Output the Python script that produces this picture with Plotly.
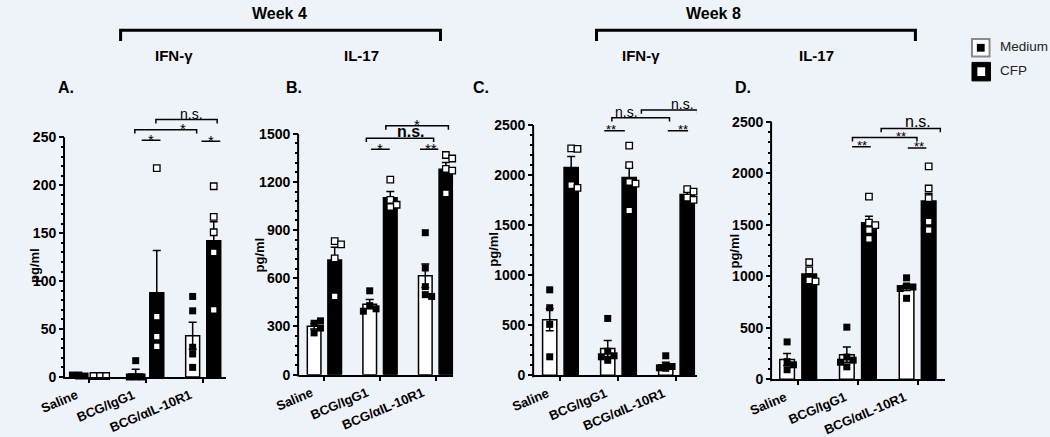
import plotly.graph_objects as go

FIG_W, FIG_H = 1050, 437
BG = "#EEF2F9"
FONT = "Liberation Sans, Arial, Helvetica, sans-serif"

CATEGORIES = ["Saline", "BCG/IgG1", "BCG/αIL-10R1"]

# ---- Panel A: Week 4, IFN-γ ----
A_MED_MEAN = [1.5, 3, 43]
A_MED_SEM = [0.5, 5, 14]
A_CFP_MEAN = [1.5, 88, 142]
A_CFP_SEM = [0.5, 44, 20]
A_MED_PTS = [[1, 1, 2, 2], [17, 0, 0, 0], [84, 69, 31, 24, 10]]
A_CFP_PTS = [[1, 1, 1], [218, 63, 42, 32], [199, 167, 151, 130, 70]]

# ---- Panel B: Week 4, IL-17 ----
B_MED_MEAN = [301, 439, 616]
B_MED_SEM = [17, 29, 73]
B_CFP_MEAN = [714, 1101, 1279]
B_CFP_SEM = [79, 39, 42]
B_MED_PTS = [[320, 335, 260, 290], [522, 430, 410, 395], [884, 664, 548, 498, 487]]
B_CFP_PTS = [[832, 811, 724, 488], [1214, 1089, 1058, 1044], [1368, 1346, 1281, 1271, 1129]]

# ---- Panel C: Week 8, IFN-γ ----
C_MED_MEAN = [556, 268, 105]
C_MED_SEM = [110, 80, 25]
C_CFP_MEAN = [2075, 1977, 1806]
C_CFP_SEM = [110, 100, 25]
C_MED_PTS = [[854, 675, 509, 185], [568, 240, 195, 185, 150], [195, 95, 88, 75, 70]]
C_CFP_PTS = [[2266, 2262, 1899, 1873], [2295, 2100, 1931, 1915, 1646], [1860, 1834, 1775, 1753]]

# ---- Panel D: Week 8, IL-17 ----
D_MED_MEAN = [191, 238, 890]
D_MED_SEM = [58, 74, 30]
D_CFP_MEAN = [1020, 1519, 1730]
D_CFP_SEM = [40, 63, 70]
D_MED_PTS = [[362, 170, 140, 92], [505, 215, 185, 165, 120], [984, 905, 895, 880, 785]]
D_CFP_PTS = [[1135, 1057, 960, 950], [1772, 1520, 1495, 1447, 1362], [2066, 1851, 1757, 1530, 1447]]

# significance marks: (x1, x2, y, bracket?, text, text_x, font size, bold)
A_SIG = [(0.92, 1.25, 247, False, "*", 1.085, 15, False),
         (1.97, 2.30, 246, False, "*", 2.135, 15, False),
         (0.80, 1.885, 258, True, "*", 1.65, 15, False),
         (1.17, 2.245, 268.6, True, "n.s.", 1.80, 14, False)]
B_SIG = [(0.84, 1.175, 1403, False, "*", 0.995, 15, False),
         (1.72, 2.05, 1403, False, "**", 1.91, 15, False),
         (0.754, 1.965, 1473, True, "n.s.", 1.55, 16, True),
         (1.105, 2.23, 1550, True, "*", 1.66, 15, False)]
C_SIG = [(0.756, 1.11, 2444, False, "**", 0.874, 13, False),
         (1.85, 2.20, 2444, False, "**", 2.106, 13, False),
         (0.886, 1.88, 2573, True, "n.s.", 1.143, 14, False),
         (1.395, 2.365, 2651, True, "n.s.", 2.10, 14, False)]
D_SIG = [(0.904, 1.215, 2255, False, "**", 1.063, 13, False),
         (1.836, 2.146, 2245, False, "**", 2.03, 13, False),
         (0.909, 1.989, 2346, True, "**", 1.717, 13, False),
         (1.39, 2.38, 2434, True, "n.s.", 2.01, 16, False)]

PANELS = [
    dict(med=A_MED_MEAN, meds=A_MED_SEM, cfp=A_CFP_MEAN, cfps=A_CFP_SEM, medp=A_MED_PTS, cfpp=A_CFP_PTS,
         sig=A_SIG, px_x=(40, 205), px_bottom=386.7, xr=(-0.426, 2.399), ytop=296.7,
         yticks=[0, 50, 100, 150, 200, 250], minor=10, letter="A.", letter_x=41, ylab_x=8, ylab_y=272),
    dict(med=B_MED_MEAN, meds=B_MED_SEM, cfp=B_CFP_MEAN, cfps=B_CFP_SEM, medp=B_MED_PTS, cfpp=B_CFP_PTS,
         sig=B_SIG, px_x=(280, 438), px_bottom=384.3, xr=(-0.456, 2.316), ytop=1756.5,
         yticks=[0, 300, 600, 900, 1200, 1500], minor=60, letter="B.", letter_x=275, ylab_x=239, ylab_y=262),
    dict(med=C_MED_MEAN, meds=C_MED_SEM, cfp=C_CFP_MEAN, cfps=C_CFP_SEM, medp=C_MED_PTS, cfpp=C_CFP_PTS,
         sig=C_SIG, px_x=(521, 688), px_bottom=385, xr=(-0.454, 2.353), ytop=2823.8,
         yticks=[0, 500, 1000, 1500, 2000, 2500], minor=100, letter="C.", letter_x=467, ylab_x=479, ylab_y=256),
    dict(med=D_MED_MEAN, meds=D_MED_SEM, cfp=D_CFP_MEAN, cfps=D_CFP_SEM, medp=D_MED_PTS, cfpp=D_CFP_PTS,
         sig=D_SIG, px_x=(765, 942), px_bottom=389, xr=(-0.437, 2.453), ytop=2781.5,
         yticks=[0, 500, 1000, 1500, 2000, 2500], minor=100, letter="D.", letter_x=735, ylab_x=726, ylab_y=258),
]

PX_TOP = 95
OFF = 0.185
BW = 0.245


def fx(px):
    return px / FIG_W


def fy(py):
    return 1 - py / FIG_H


def swarm(center, values, kx, ky, step_px=6.5, thr_px=6.5):
    placed, xs = [], []
    for v in values:
        chosen = 0.0
        for m in (0, 1, -1):
            dx = m * step_px
            if all(abs(dx - pdx) >= thr_px or abs((v - pv) * ky) >= thr_px for pdx, pv in placed):
                chosen = dx
                break
        placed.append((chosen, v))
        xs.append(center + chosen / kx)
    return xs


fig = go.Figure()
axes = {}
shapes = []
annotations = []

for i, p in enumerate(PANELS):
    n = i + 1
    xa = "x" if n == 1 else f"x{n}"
    ya = "y" if n == 1 else f"y{n}"
    x0px, x1px = p["px_x"]
    ky = (p["px_bottom"] - PX_TOP) / p["ytop"]
    kx = (x1px - x0px) / (p["xr"][1] - p["xr"][0])
    pos = list(range(len(CATEGORIES)))

    fig.add_trace(go.Bar(
        x=[c - OFF for c in pos], y=p["med"], width=BW, xaxis=xa, yaxis=ya, showlegend=False,
        marker=dict(color="white", line=dict(color="black", width=1.5)),
        error_y=dict(type="data", array=p["meds"], color="black", thickness=1.5, width=4)))
    fig.add_trace(go.Bar(
        x=[c + OFF for c in pos], y=p["cfp"], width=BW, xaxis=xa, yaxis=ya, showlegend=False,
        marker=dict(color="black", line=dict(color="black", width=1.5)),
        error_y=dict(type="data", array=p["cfps"], color="black", thickness=1.5, width=4)))

    mx, my, cx, cy = [], [], [], []
    for g, vals in enumerate(p["medp"]):
        mx += swarm(g - OFF, vals, kx, ky)
        my += vals
    for g, vals in enumerate(p["cfpp"]):
        cx += swarm(g + OFF, vals, kx, ky)
        cy += vals
    fig.add_trace(go.Scatter(x=mx, y=my, mode="markers", xaxis=xa, yaxis=ya, showlegend=False,
                             cliponaxis=False,
                             marker=dict(symbol="square", size=7, color="black", line=dict(width=0))))
    fig.add_trace(go.Scatter(x=cx, y=cy, mode="markers", xaxis=xa, yaxis=ya, showlegend=False,
                             cliponaxis=False,
                             marker=dict(symbol="square", size=6.5, color="white",
                                         line=dict(color="black", width=1.3))))

    ymax_tick = p["yticks"][-1]
    minor_vals = [v for v in range(0, ymax_tick + 1, p["minor"]) if v not in p["yticks"]]
    axes["xaxis" if n == 1 else f"xaxis{n}"] = dict(
        domain=[fx(x0px), fx(x1px)], range=list(p["xr"]), anchor=ya,
        showline=True, linecolor="black", linewidth=2, mirror=False,
        ticks="outside", ticklen=4, tickwidth=2, tickcolor="black",
        tickmode="array", tickvals=pos, ticktext=CATEGORIES, tickangle=-23,
        ticklabelshift=-13,
        tickfont=dict(family=FONT, size=13, color="black", weight="bold"),
        showgrid=False, zeroline=False, fixedrange=True)
    axes["yaxis" if n == 1 else f"yaxis{n}"] = dict(
        domain=[fy(p["px_bottom"]), fy(PX_TOP)], range=[0, p["ytop"]], anchor=xa,
        showline=False, ticks="outside", ticklen=5, tickwidth=2, tickcolor="black",
        tickmode="array", tickvals=p["yticks"], ticktext=[str(v) for v in p["yticks"]],
        tickfont=dict(family=FONT, size=14, color="black", weight="bold"),
        minor=dict(tickmode="array", tickvals=minor_vals, ticks="outside", ticklen=3,
                   tickwidth=1.5, tickcolor="black", showgrid=False),
        showgrid=False, zeroline=False, fixedrange=True)

    # y-axis line only up to the top tick
    ytop_paper = fy(p["px_bottom"]) + (ymax_tick / p["ytop"]) * (fy(PX_TOP) - fy(p["px_bottom"]))
    shapes.append(dict(type="line", xref="paper", yref="paper",
                       x0=fx(x0px - 1), x1=fx(x0px - 1), y0=fy(p["px_bottom"] + 2), y1=ytop_paper,
                       line=dict(color="black", width=2)))

    # significance lines and brackets
    drop = 4 / ky
    for (x1, x2, y, br, txt, tx, fs, bold) in p["sig"]:
        if br:
            path = f"M {x1},{y - drop} L {x1},{y} L {x2},{y} L {x2},{y - drop}"
            shapes.append(dict(type="path", xref=xa, yref=ya, path=path,
                               line=dict(color="black", width=1.5)))
        else:
            shapes.append(dict(type="line", xref=xa, yref=ya, x0=x1, x1=x2, y0=y, y1=y,
                               line=dict(color="black", width=1.5)))
        if "*" in txt:
            annotations.append(dict(xref=xa, yref=ya, x=tx, y=y, text=txt, showarrow=False,
                                    yanchor="middle", xanchor="center", yshift=1,
                                    font=dict(family=FONT, size=fs, color="black",
                                              weight="bold" if bold else "normal")))
        else:
            annotations.append(dict(xref=xa, yref=ya, x=tx, y=y, text=txt, showarrow=False,
                                    yanchor="bottom", xanchor="center", yshift=-4,
                                    font=dict(family=FONT, size=fs, color="black",
                                              weight="bold" if bold else "normal")))

    # panel letter and y label
    annotations.append(dict(xref="paper", yref="paper", x=fx(p["letter_x"]), y=fy(90), text=p["letter"],
                            showarrow=False, xanchor="center", yanchor="middle",
                            font=dict(family=FONT, size=16, color="black", weight="bold")))
    annotations.append(dict(xref="paper", yref="paper", x=fx(p["ylab_x"]), y=fy(p["ylab_y"]), text="pg/ml",
                            showarrow=False, xanchor="center", yanchor="middle", textangle=-90,
                            font=dict(family=FONT, size=13, color="black", weight="bold")))

# headers
for txt, x, y, fs in [("Week 4", 260, 14, 16), ("Week 8", 705, 14, 16),
                      ("IFN-γ", 152, 57, 15), ("IL-17", 344, 57, 15),
                      ("IFN-γ", 631, 57, 15), ("IL-17", 811, 57, 15)]:
    annotations.append(dict(xref="paper", yref="paper", x=fx(x), y=fy(y), text=txt, showarrow=False,
                            xanchor="center", yanchor="middle",
                            font=dict(family=FONT, size=fs, color="black", weight="bold")))

for xa_px, xb_px in [(97, 425), (585, 912)]:
    path = (f"M {fx(xa_px)},{fy(42)} L {fx(xa_px)},{fy(31)} "
            f"L {fx(xb_px)},{fy(31)} L {fx(xb_px)},{fy(42)}")
    shapes.append(dict(type="path", xref="paper", yref="paper", path=path,
                       line=dict(color="black", width=3)))

# legend
shapes.append(dict(type="rect", xref="paper", yref="paper", x0=fx(970), x1=fx(988), y0=fy(58), y1=fy(40),
                   fillcolor="white", line=dict(color="#8a8a8a", width=2)))
shapes.append(dict(type="rect", xref="paper", yref="paper", x0=fx(975), x1=fx(983), y0=fy(53), y1=fy(45),
                   fillcolor="black", line=dict(width=0)))
shapes.append(dict(type="rect", xref="paper", yref="paper", x0=fx(970), x1=fx(989), y0=fy(83), y1=fy(64),
                   fillcolor="black", line=dict(color="black", width=1)))
shapes.append(dict(type="rect", xref="paper", yref="paper", x0=fx(975.5), x1=fx(983.5), y0=fy(78), y1=fy(69),
                   fillcolor="white", line=dict(width=0)))
for txt, y in [("Medium", 48), ("CFP", 72)]:
    annotations.append(dict(xref="paper", yref="paper", x=fx(997), y=fy(y), text=txt, showarrow=False,
                            xanchor="left", yanchor="middle",
                            font=dict(family=FONT, size=13.5, color="#222222")))

fig.update_layout(
    width=FIG_W, height=FIG_H, margin=dict(l=0, r=0, t=0, b=0),
    paper_bgcolor=BG, plot_bgcolor=BG, showlegend=False, barmode="overlay",
    shapes=shapes, annotations=annotations, **axes)

fig.write_html("out.html", config={"displayModeBar": False},
               post_script="document.body.style.margin='0';document.body.style.background='" + BG + "';")
